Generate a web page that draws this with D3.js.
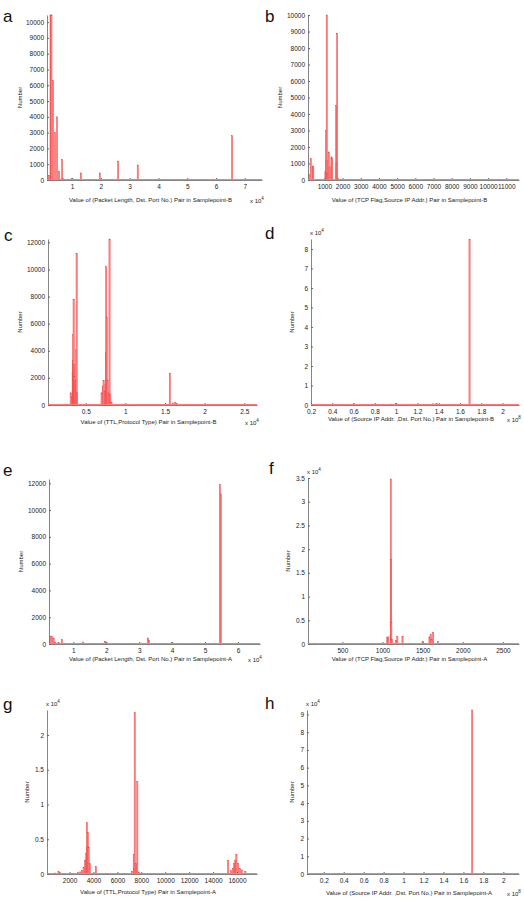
<!DOCTYPE html>
<html lang="en">
	<head>
		<title>Pair histograms</title>
		<meta charset="utf-8">
		<script src="https://d3js.org/d3.v7.min.js"></script>
		<style>
			body { margin: 0; background: #fff; }
			text { font-family: "Liberation Sans", Arial, sans-serif; fill: #222; }
		</style>
	</head>
	<body>
		<div id="plotContent"></div>
		<script>
// values (x in the unit shown on the axis, y = count)
var aX = [0.19, 0.25, 0.26, 0.27, 0.28, 0.335, 0.405, 0.475, 0.545, 0.65, 0.68, 1.0, 1.3, 1.96, 2.6, 3.0, 3.28, 4.0, 4.5, 5.0, 5.3, 5.9, 6.56, 7.0];
var aY = [300, 10450, 10450, 900, 10450, 6300, 3000, 4000, 550, 1300, 100, 80, 450, 450, 1200, 50, 950, 50, 40, 50, 40, 60, 2800, 50];

var bX = [155, 250, 360, 390, 1060, 1090, 1120, 1130, 1160, 1240, 1290, 1390, 1420, 1645, 1670, 1700, 1750, 1900];
var bY = [350, 1300, 850, 800, 500, 3000, 1200, 10000, 400, 1700, 800, 1400, 1300, 4500, 1000, 8900, 100, 50];

var cX = [0.05, 0.15, 0.25, 0.31, 0.325, 0.335, 0.34, 0.343, 0.347, 0.352, 0.357, 0.37, 0.38, 0.385, 0.39, 0.70, 0.715, 0.725, 0.74, 0.75, 0.755, 0.758, 0.765, 0.775, 0.79, 0.80, 0.81, 0.825, 1.1, 1.56, 1.6, 1.63, 1.65];
var cY = [30, 40, 60, 900, 600, 2400, 3300, 5200, 7800, 3000, 2100, 1800, 4100, 11200, 900, 900, 1400, 1800, 1000, 1500, 3900, 10200, 6500, 1800, 900, 12250, 800, 200, 30, 2350, 150, 200, 100];

var dX = [0.55, 0.6, 0.65, 0.95, 1.0, 1.05, 1.35, 1.38, 1.42, 1.69];
var dY = [0.04, 0.06, 0.03, 0.05, 0.07, 0.04, 0.06, 0.08, 0.03, 8.5];

var eX = [0.3, 0.35, 0.4, 0.45, 0.55, 0.65, 1.0, 1.3, 1.96, 2.0, 2.6, 3.26, 3.3, 4.0, 4.6, 5.0, 5.45, 5.48, 6.0];
var eY = [600, 550, 450, 100, 100, 350, 50, 150, 200, 150, 40, 450, 300, 100, 40, 50, 11900, 11200, 50];

var fX = [80, 120, 160, 300, 1000, 1060, 1073, 1103, 1106, 1110, 1118, 1170, 1185, 1249, 1350, 1500, 1585, 1600, 1612, 1631, 1690];
var fY = [100, 150, 200, 50, 150, 1400, 1500, 34800, 17800, 4500, 1000, 800, 1600, 1600, 100, 500, 1500, 2000, 900, 2500, 500];

var gX = [800, 1083, 1200, 2000, 2700, 2900, 3050, 3175, 3300, 3400, 3450, 3500, 3530, 3600, 3700, 4200, 7200, 7366, 7420, 7450, 7550, 7667, 7800, 15250, 15500, 15650, 15750, 15850, 15950, 16100, 16250, 16400, 16700];
var gY = [150, 350, 200, 100, 200, 300, 500, 1000, 2000, 3000, 7400, 4000, 6000, 3800, 1500, 1100, 400, 2800, 800, 23200, 1500, 13300, 300, 2000, 500, 800, 1500, 2000, 2800, 1500, 800, 600, 400];

var hX = [0.35, 1.12, 1.688];
var hY = [0.03, 0.03, 9.25];

var aTicks = [1, 2, 3, 4, 5, 6, 7];
var bTicks = [1000, 2000, 3000, 4000, 5000, 6000, 7000, 8000, 9000, 10000, 11000];
var cTicks = [0.5, 1, 1.5, 2, 2.5];
var dTicks = [0.2, 0.4, 0.6, 0.8, 1, 1.2, 1.4, 1.6, 1.8, 2];
var eTicks = [1, 2, 3, 4, 5, 6];
var fTicks = [500, 1000, 1500, 2000, 2500];
var gTicks = [2000, 4000, 6000, 8000, 10000, 12000, 14000, 16000];
var hTicks = [0.2, 0.4, 0.6, 0.8, 1, 1.2, 1.4, 1.6, 1.8, 2];

var svg = d3.select("#plotContent")
	.append("svg")
	.attr("width", 524)
	.attr("height", 901);

var panels = [
	{letter: "a", xs: aX, ys: aY, xt: aTicks, yt: d3.range(0, 10001, 1000), xd: [0.126, 7.6], yd: [0, 10450],
		left: 47, right: 262, top: 15, bottom: 180, lx: 22, letterX: 3, letterY: 22,
		label: "Value of (Packet Length, Dst. Port No.) Pair in Samplepoint-B", labelY: 202, xExp: "4"},
	{letter: "b", xs: bX, ys: bY, xt: bTicks, yt: d3.range(0, 10001, 1000), xd: [100, 11700], yd: [0, 10000],
		left: 308, right: 519, top: 15, bottom: 180, lx: 282, letterX: 265, letterY: 22,
		label: "Value of (TCP Flag,Source IP Addr.) Pair in Samplepoint-B", labelY: 202},
	{letter: "c", xs: cX, ys: cY, xt: cTicks, yt: d3.range(0, 12001, 2000), xd: [0.024, 2.66], yd: [0, 12250],
		left: 48, right: 257, top: 239, bottom: 405, lx: 22, letterX: 4, letterY: 241,
		label: "Value of (TTL,Protocol Type) Pair in Samplepoint-B", labelY: 424, xExp: "4"},
	{letter: "d", xs: dX, ys: dY, xt: dTicks, yt: d3.range(0, 9, 1), xd: [0.2, 2.155], yd: [0, 8.51],
		left: 311, right: 519, top: 239, bottom: 405, lx: 294, letterX: 265, letterY: 239,
		label: "Value of (Source IP Addr. ,Dst. Port No.) Pair in Samplepoint-B", labelY: 421, xExp: "8", yExp: "4"},
	{letter: "e", xs: eX, ys: eY, xt: eTicks, yt: d3.range(0, 12001, 2000), xd: [0.26, 6.67], yd: [0, 12320],
		left: 49, right: 260, top: 479, bottom: 644, lx: 23, letterX: 3, letterY: 476,
		label: "Value of (Packet Length, Dst. Port No.) Pair in Samplepoint-A", labelY: 661, xExp: "4"},
	{letter: "f", xs: fX, ys: fY, xt: fTicks, yt: d3.range(0, 3.51, 0.5), xd: [72, 2700], yd: [0, 3.5], yScale: 10000,
		left: 308, right: 519, top: 478, bottom: 644, lx: 290, letterX: 269, letterY: 474,
		label: "Value of (TCP Flag,Source IP Addr.) Pair in Samplepoint-A", labelY: 661, yExp: "4"},
	{letter: "g", xs: gX, ys: gY, xt: gTicks, yt: [0, 0.5, 1, 1.5, 2], xd: [117, 17670], yd: [0, 2.36], yScale: 10000,
		left: 47, right: 257, top: 710, bottom: 874, lx: 29, letterX: 3, letterY: 710,
		label: "Value of (TTL,Protocol Type) Pair in Samplepoint-A", labelY: 894, yExp: "4"},
	{letter: "h", xs: hX, ys: hY, xt: hTicks, yt: d3.range(0, 10, 1), xd: [0.032, 2.157], yd: [0, 9.25],
		left: 307, right: 519, top: 710, bottom: 874, lx: 294, letterX: 265, letterY: 709,
		label: "Value of (Source IP Addr. ,Dst. Port No.) Pair in Samplepoint-A", labelY: 895, xExp: "8", yExp: "4"}
];

function fmt(v) { return String(+v.toFixed(2)); }

panels.forEach(function(p) {
	var ys = p.yScale || 1;
	var x = d3.scaleLinear().domain(p.xd).range([p.left, p.right]);
	var y = d3.scaleLinear().domain(p.yd).range([p.bottom, p.top]);
	var g = svg.append("g");

	// panel letter
	g.append("text")
		.attr("x", p.letterX).attr("y", p.letterY)
		.style("font-size", "17px")
		.style("fill", "#111")
		.text(p.letter);

	// bars
	var pts = p.xs.map(function(v, i) { return {x: v, y: p.ys[i] / ys}; });
	g.append("g").selectAll("rect")
		.data(pts)
		.enter()
		.append("rect")
		.attr("x", function(d) { return x(d.x) - 0.6; })
		.attr("y", function(d) { return y(Math.min(d.y, p.yd[1])); })
		.attr("width", 1.2)
		.attr("height", function(d) { return p.bottom - y(Math.min(d.y, p.yd[1])); })
		.style("fill", "#ff9090")
		.style("stroke", "#f03030")
		.style("stroke-width", 0.4);

	// axes, matlab style ticks pointing in
	var xa = g.append("g")
		.attr("transform", "translate(0," + p.bottom + ")")
		.call(d3.axisBottom(x).tickValues(p.xt).tickFormat(fmt).tickSizeInner(-2).tickSizeOuter(0).tickPadding(4));
	var ya = g.append("g")
		.attr("transform", "translate(" + p.left + ",0)")
		.call(d3.axisLeft(y).tickValues(p.yt).tickFormat(fmt).tickSizeInner(-2).tickSizeOuter(0).tickPadding(3));
	[xa, ya].forEach(function(a) {
		a.select(".domain").style("stroke", "#666").style("stroke-width", 0.8);
		a.selectAll(".tick line").style("stroke", "#666");
		a.selectAll("text").style("font-size", "6.5px").style("font-family", "Liberation Sans, Arial, sans-serif").style("fill", "#222");
	});

	// red base line
	g.append("line")
		.attr("x1", p.left).attr("x2", p.right)
		.attr("y1", p.bottom - 0.5).attr("y2", p.bottom - 0.5)
		.style("stroke", "#ff7a7a")
		.style("stroke-width", 1);

	// axis titles
	g.append("text")
		.attr("x", (p.left + p.right) / 2 - 4)
		.attr("y", p.labelY)
		.attr("text-anchor", "middle")
		.style("font-size", "6px")
		.text(p.label);
	g.append("text")
		.attr("transform", "translate(" + p.lx + "," + (p.top + p.bottom) / 2 + ") rotate(-90)")
		.attr("text-anchor", "middle")
		.style("font-size", "6px")
		.text("Number");

	// exponent notes
	if (p.xExp) {
		var t = g.append("text")
			.attr("x", p.right - 12).attr("y", p.labelY + 1)
			.style("font-size", "6px");
		t.append("tspan").text("x 10");
		t.append("tspan").attr("dy", -3).style("font-size", "4.5px").text(p.xExp);
	}
	if (p.yExp) {
		var u = g.append("text")
			.attr("x", p.left - 1).attr("y", p.top - 4)
			.style("font-size", "6px");
		u.append("tspan").text("x 10");
		u.append("tspan").attr("dy", -3).style("font-size", "4.5px").text(p.yExp);
	}
});
		</script>
	</body>
</html>
